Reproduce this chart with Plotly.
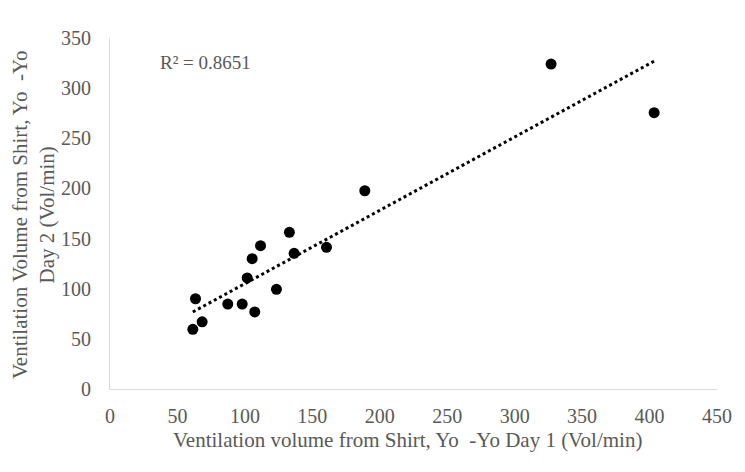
import numpy as np
import plotly.graph_objects as go

x_day1 = [61.4, 63.4, 68.3, 87.3, 98.0, 107.3, 101.7, 105.4, 111.6, 133.0, 136.5, 123.4, 160.5, 188.9, 327.0, 403.4]
y_day2 = [59.5, 90.0, 67.0, 84.7, 84.7, 76.8, 110.7, 130.0, 142.9, 156.2, 135.3, 99.4, 141.3, 197.7, 324.0, 275.5]

x_ticks = [0, 50, 100, 150, 200, 250, 300, 350, 400, 450]
y_ticks = [0, 50, 100, 150, 200, 250, 300, 350]

x_title = "Ventilation volume from Shirt, Yo\u00a0\u00a0-Yo Day 1 (Vol/min)"
y_title = "Ventilation Volume from Shirt, Yo\u00a0\u00a0-Yo<br>Day 2 (Vol/min)"

xa = np.array(x_day1)
ya = np.array(y_day2)
slope, intercept = np.polyfit(xa, ya, 1)
tx = np.array([xa.min(), xa.max()])
ty = slope * tx + intercept

font_family = "Liberation Serif"
grey = "#595959"

L, R, T, B = 110, 28, 38, 83
W, H = 745, 472
pw = W - L - R
ph = H - T - B

fig = go.Figure()
fig.add_trace(go.Scatter(x=tx, y=ty, mode="lines",
                         line=dict(color="black", width=3, dash="dot"),
                         showlegend=False, hoverinfo="skip"))
fig.add_trace(go.Scatter(x=x_day1, y=y_day2, mode="markers",
                         marker=dict(color="black", size=11),
                         showlegend=False))

fig.add_annotation(x=35.7, y=326, xref="x", yref="y", xanchor="left", yanchor="middle",
                   text="R² = 0.8651", showarrow=False,
                   font=dict(family=font_family, size=19, color=grey))

# axis titles
fig.add_annotation(x=(407 - L) / pw, y=0, xref="paper", yref="paper",
                   xanchor="center", yanchor="middle", yshift=-(440 - (H - B)),
                   text=x_title, showarrow=False,
                   font=dict(family=font_family, size=21, color=grey))
fig.add_annotation(x=0, y=(H - B - 215) / ph, xref="paper", yref="paper",
                   xanchor="center", yanchor="middle", xshift=-(L - 33),
                   text=y_title, showarrow=False, textangle=-90,
                   font=dict(family=font_family, size=21, color=grey))

fig.update_layout(
    width=W, height=H,
    margin=dict(l=L, r=R, t=T, b=B),
    paper_bgcolor="white", plot_bgcolor="white",
    font=dict(family=font_family, color=grey, size=20),
    xaxis=dict(range=[0, 450], tickvals=x_ticks, showgrid=False, zeroline=False,
               showline=True, linecolor="#d9d9d9", linewidth=1, ticks="",
               ticklabelstandoff=9, tickfont=dict(family=font_family, size=20, color=grey)),
    yaxis=dict(range=[0, 350], tickvals=y_ticks, showgrid=False, zeroline=False,
               showline=True, linecolor="#d9d9d9", linewidth=1, ticks="",
               ticklabelstandoff=14, tickfont=dict(family=font_family, size=20, color=grey)),
)

fig.write_html("out.html")
